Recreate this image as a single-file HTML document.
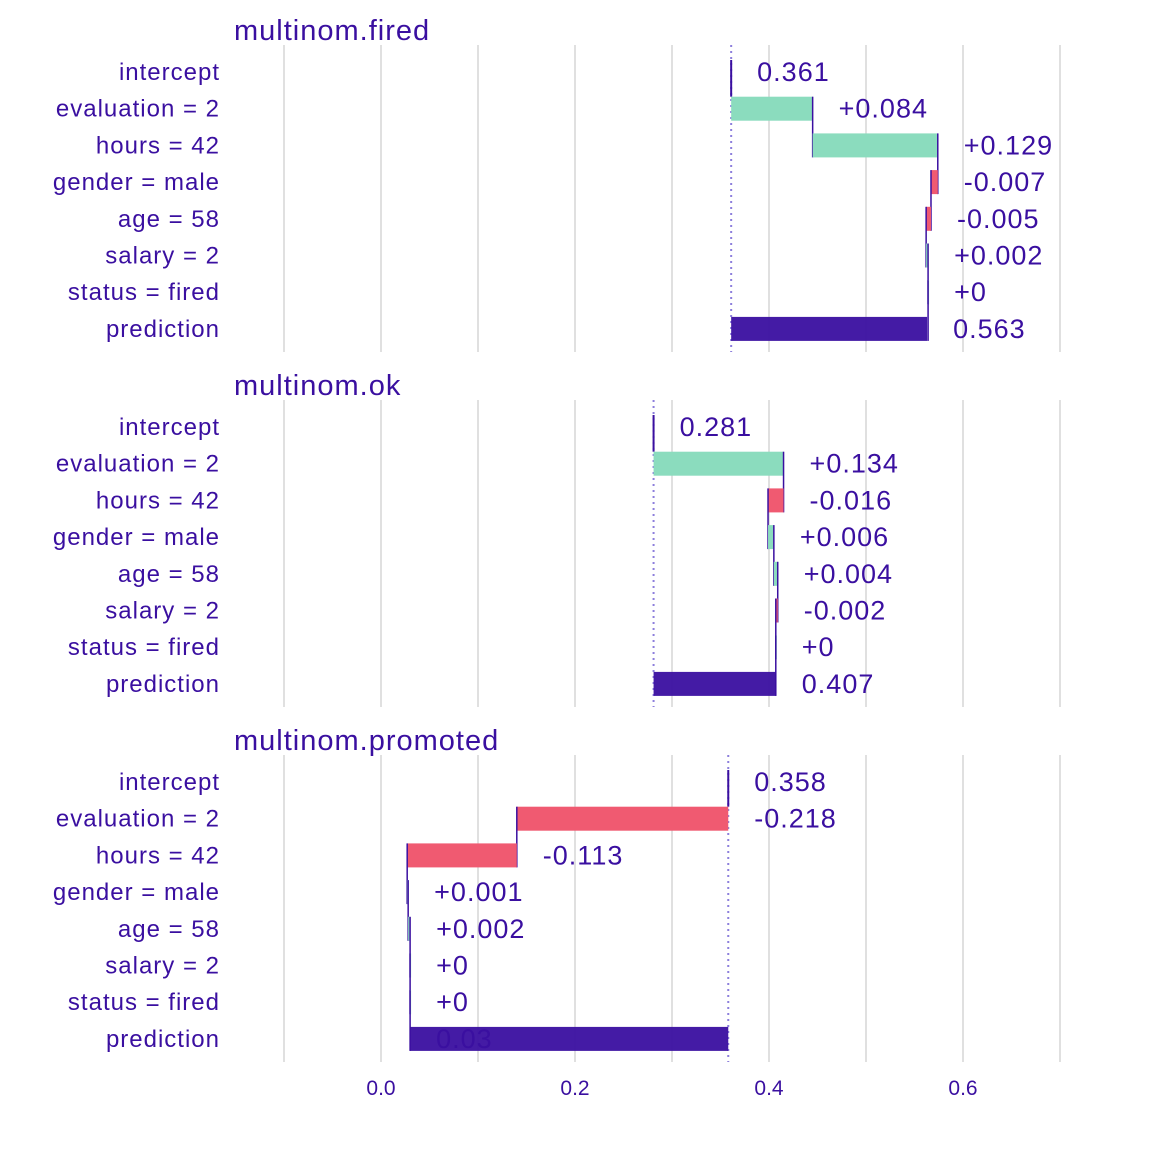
<!DOCTYPE html>
<html><head><meta charset="utf-8"><style>
html,body{margin:0;padding:0;background:#fff}
svg{display:block;font-family:"Liberation Sans",Arial,sans-serif}
</style></head><body>
<svg id="chart" width="1152" height="1152" viewBox="0 0 1152 1152"></svg>
<script>
const variables = ["intercept","evaluation = 2","hours = 42","gender = male","age = 58","salary = 2","status = fired","prediction"];
const panelTitles = ["multinom.fired","multinom.ok","multinom.promoted"];
const firedValues = [0.361,0.084,0.129,-0.007,-0.005,0.002,0,0.563];
const okValues = [0.281,0.134,-0.016,0.006,0.004,-0.002,0,0.407];
const promotedValues = [0.358,-0.218,-0.113,0.001,0.002,0,0,0.03];
const firedLabels = ["0.361","+0.084","+0.129","-0.007","-0.005","+0.002","+0","0.563"];
const okLabels = ["0.281","+0.134","-0.016","+0.006","+0.004","-0.002","+0","0.407"];
const promotedLabels = ["0.358","-0.218","-0.113","+0.001","+0.002","+0","+0","0.03"];
const tickValues = [0,0.2,0.4,0.6];
const tickLabels = ["0.0","0.2","0.4","0.6"];
const gridValues = [-0.1,0,0.1,0.2,0.3,0.4,0.5,0.6,0.7];

const NS="http://www.w3.org/2000/svg";
const svg=document.getElementById('chart');
const X=v=>381+v*970;
const C="#3a0fa0";
function mk(tag,attrs,parent){const e=document.createElementNS(NS,tag);for(const k in attrs)e.setAttribute(k,attrs[k]);(parent||svg).appendChild(e);return e;}
const panels=[[firedValues,firedLabels],[okValues,okLabels],[promotedValues,promotedLabels]];
const panelTop=[45,400,755];
const rowStep=36.7, firstRow=27, barH=24;
panels.forEach((p,pi)=>{
  const [vals,labs]=p;
  const g=mk('g',{});
  
  
  const top=panelTop[pi], bottom=top+307;
  gridValues.forEach(v=>{const l=mk('line',{x1:X(v),x2:X(v),y1:top,y2:bottom,stroke:"#e0e0e0","stroke-width":2},g);
    });
  const t=mk('text',{x:234,y:top-5,fill:C,"font-size":29,"letter-spacing":1},g);t.textContent=panelTitles[pi];
  
  const Y=i=>top+firstRow+i*rowStep;
  const intercept=vals[0];
  const d=mk('line',{x1:X(intercept),x2:X(intercept),y1:top,y2:bottom,stroke:"#8d7fdc","stroke-width":2,"stroke-dasharray":"2,4"},g);
  
  let cum=intercept;
  vals.forEach((v,i)=>{
    const y=Y(i);
    const lab=mk('text',{x:220,y:y+8,fill:C,"font-size":24,"letter-spacing":1,"text-anchor":"end"},g);lab.textContent=variables[i];
    
    let a,b,col,labelX;
    if(i===0){a=0;b=0;col=C;cum=v;
      mk('line',{x1:X(v),x2:X(v),y1:y-barH/2,y2:y+barH/2+rowStep-barH,stroke:C,"stroke-width":2},g);
      labelX=X(v)+26;}
    else if(i===variables.length-1){a=intercept;b=v;col=C;labelX=X(v)+26;}
    else{a=cum;b=cum+v;cum=b;col=v>=0?"#8bdcbe":"#f05a71";labelX=X(Math.max(a,b))+26;}
    if(i>0){
      const r=mk('rect',{x:X(Math.min(a,b)),y:y-barH/2,width:Math.max(X(Math.max(a,b))-X(Math.min(a,b)),1),height:barH,fill:col,opacity:i===variables.length-1?0.95:1},g);
      
      if(i<variables.length-1){
        const cl=mk('line',{x1:X(b),x2:X(b),y1:y-barH/2,y2:y+barH/2+rowStep,stroke:C,"stroke-width":1.5},g);
        
      }
    }
    const vt=mk('text',{x:labelX,y:y+9,fill:C,"font-size":27,"letter-spacing":1},g);vt.textContent=labs[i];
    
  });
});
tickValues.forEach((v,i)=>{const t=mk('text',{x:X(v),y:1095,fill:C,"font-size":21,"text-anchor":"middle"});t.textContent=tickLabels[i];
  });
</script>
</body></html>
